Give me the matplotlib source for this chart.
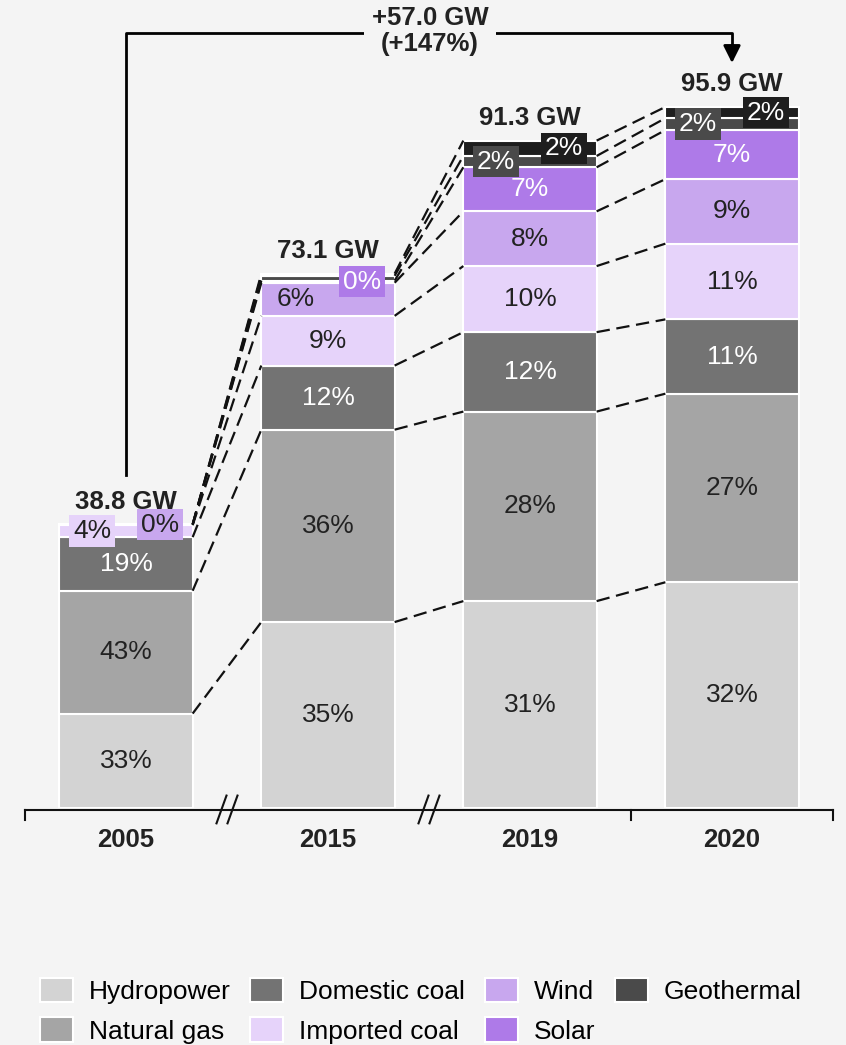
import numpy as np
import matplotlib.pyplot as plt

plt.rcParams['font.family'] = ['Liberation Sans', 'DejaVu Sans']

years = ['2005', '2015', '2019', '2020']
totals = [38.8, 73.1, 91.3, 95.9]
growth_label = '+57.0 GW\n(+147%)'

# share of installed capacity, % (top two dark series: geothermal + other)
sources = ['Hydropower', 'Natural gas', 'Domestic coal', 'Imported coal',
           'Wind', 'Solar', 'Geothermal', 'Other']
hydro = [33.3, 34.8, 31.0, 32.2]
gas = [43.3, 36.0, 28.4, 26.9]
dom_coal = [18.9, 12.0, 11.9, 10.6]
imp_coal = [4.2, 9.3, 9.9, 10.8]
wind = [0.3, 6.2, 8.2, 9.2]
solar = [0.0, 0.4, 6.6, 7.0]
geothermal = [0.0, 0.9, 1.7, 1.7]
other = [0.0, 0.4, 2.3, 1.6]
shares = [hydro, gas, dom_coal, imp_coal, wind, solar, geothermal, other]

colors = ['#d3d3d3', '#a5a5a5', '#737373', '#e6d3fa',
          '#c8a7ee', '#ae7ae8', '#4a4a4a', '#1e1e1e']
dark = {2, 5, 6, 7}
bg = '#f4f4f4'
txt = '#222222'

# which small segments get a boxed label and on which side
boxed = {(0, 3): -1, (0, 4): 1, (1, 5): 1, (2, 6): -1, (2, 7): 1, (3, 6): -1, (3, 7): 1}
shifted = {(1, 4): -1}
hidden = {(0, 5), (0, 6), (0, 7), (1, 6), (1, 7)}

px_per_gw = 7.31
fig = plt.figure(figsize=(8.46, 10.45), dpi=100)
fig.patch.set_facecolor(bg)
ax = fig.add_axes([0, 237 / 1045, 1, 808 / 1045])
ax.set_facecolor(bg)
ax.set_xlim(-126 / 202, (846 - 126) / 202)
ax.set_ylim(0, 808 / px_per_gw)
ax.axis('off')

x = np.arange(len(years))
w = 0.66
tot = np.array(totals)
bottom = np.zeros(len(years))
cums = [bottom.copy()]
handles = []
for k, s in enumerate(shares):
    vals = np.array(s) / 100 * tot
    b = ax.bar(x, vals, w, bottom=bottom, color=colors[k], edgecolor='white',
               linewidth=1.5, label=sources[k])
    handles.append(b)
    for i in range(len(years)):
        if (i, k) in hidden:
            continue
        yc = bottom[i] + vals[i] / 2
        lab = '%d%%' % round(s[i])
        tc = 'white' if k in dark else txt
        if (i, k) in boxed:
            ax.text(x[i] + boxed[(i, k)] * 0.168, yc, lab, ha='center', va='center',
                    fontsize=19, color=tc, zorder=5,
                    bbox=dict(boxstyle='square,pad=0.14', fc=colors[k], ec='none'))
        else:
            ax.text(x[i] + shifted.get((i, k), 0) * 0.16, yc, lab, ha='center',
                    va='center', fontsize=19, color=tc, zorder=5)
    bottom = bottom + vals
    cums.append(bottom.copy())

# dashed connectors between segment boundaries
for i in range(len(years) - 1):
    for c in cums[1:]:
        ax.plot([x[i] + w / 2, x[i + 1] - w / 2], [c[i], c[i + 1]],
                color='#111111', lw=1.6, ls=(0, (6, 3)), zorder=1)

# totals
for i in range(len(years)):
    ax.text(x[i], tot[i] + 3.1, '%.1f GW' % tot[i], ha='center', va='center',
            fontsize=18.5, fontweight='bold', color=txt)

# axis with breaks
ya = -0.27
ax.plot([-0.5, 3.5], [ya, ya], color='#111111', lw=1.5, clip_on=False)
for xt in [-0.5, 2.5, 3.5]:
    ax.plot([xt, xt], [ya, -1.6], color='#111111', lw=1.5, clip_on=False)
for xb in [0.5, 1.5]:
    for d in [-5.5, 5.5]:
        x0 = xb + (d - 5) / 202
        x1 = xb + (d + 5) / 202
        ax.plot([x0, x1], [-2.1, 1.7], color='#111111', lw=1.5, clip_on=False)
for i, yr in enumerate(years):
    ax.text(x[i], -4.4, yr, ha='center', va='center', fontsize=18.5,
            fontweight='bold', color=txt)

# growth arrow
y_top = (808 - 33) / px_per_gw
y_mid = (808 - 46) / px_per_gw
y_tip = (808 - 63) / px_per_gw
ax.plot([0, 0, 3, 3], [tot[0] + 6.8, y_top, y_top, y_mid], color='black', lw=2,
        clip_on=False)
ax.annotate('', xy=(3, y_tip), xytext=(3, y_mid + 0.1),
            arrowprops=dict(arrowstyle='-|>', mutation_scale=26, color='black', lw=2,
                            shrinkA=0, shrinkB=0))
ax.text(1.505, (808 - 31) / px_per_gw, growth_label, ha='center', va='center',
        fontsize=18.5, fontweight='bold', color=txt, linespacing=1.15,
        bbox=dict(boxstyle='square,pad=0.3', fc=bg, ec='none'))

fig.legend(handles=handles[:7], labels=sources[:7], ncol=4, loc='upper left',
           bbox_to_anchor=(40 / 846, 1 - 978 / 1045), frameon=False, fontsize=19,
           handlelength=1.25, handleheight=1.05, handletextpad=0.6,
           columnspacing=0.75, labelspacing=0.5, borderpad=0, borderaxespad=0)

fig.savefig('out.png', dpi=100, facecolor=bg)
